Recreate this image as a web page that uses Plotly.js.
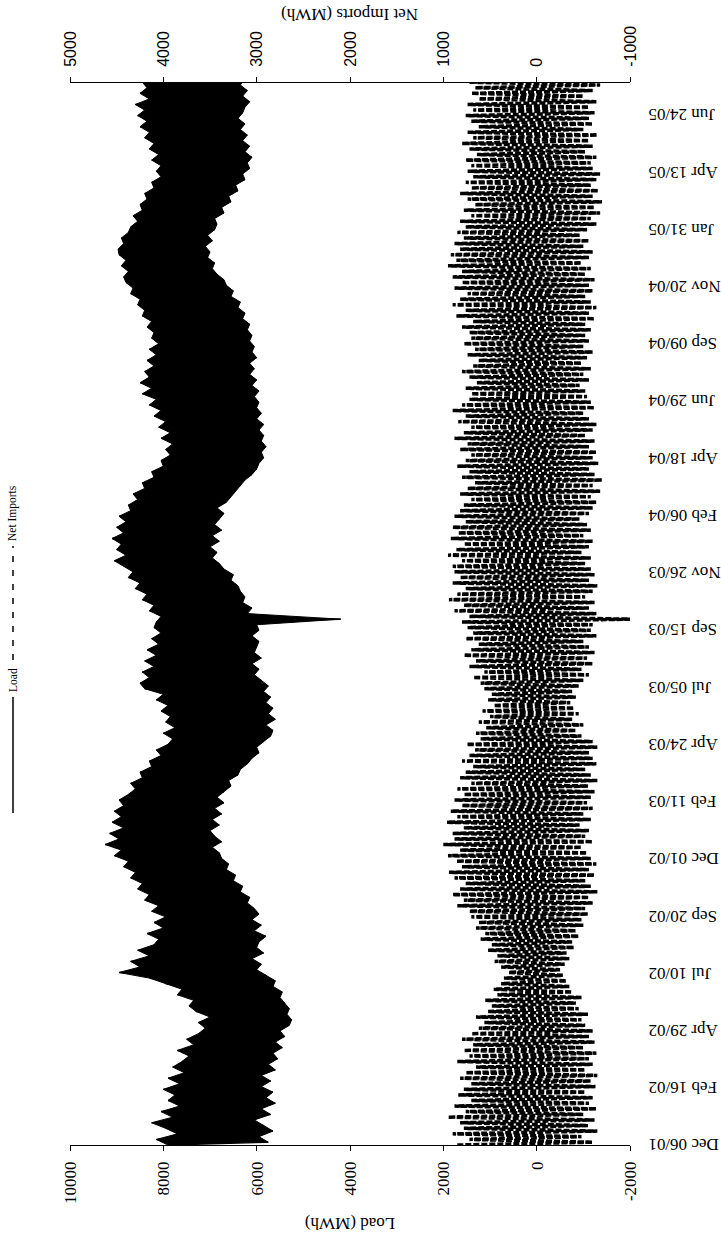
<!DOCTYPE html>
<html><head><meta charset="utf-8">
<script src="https://cdn.plot.ly/plotly-3.0.1.min.js"></script>
<style>
html,body{margin:0;padding:0;background:#fff;overflow:hidden;}
#wrap{position:relative;width:721px;height:1233px;overflow:hidden;background:#fff;}
#chart{position:absolute;left:0;top:0;width:1233px;height:721px;transform-origin:0 0;transform:translate(0px,1233px) rotate(-90deg);}
</style></head><body><div id="wrap"><div id="chart"></div></div>
<script>
// ---- data (weekly envelope; week 0 starts 2001-12-06) ----
const seriesStart = '2001-12-06';
const rangeEnd = '2005-08-03';
const tickDates = ['2001-12-06','2002-02-16','2002-04-29','2002-07-10','2002-09-20','2002-12-01','2003-02-11','2003-04-24','2003-07-05','2003-09-15','2003-11-26','2004-02-06','2004-04-18','2004-06-29','2004-09-09','2004-11-20','2005-01-31','2005-04-13','2005-06-24'];
const tickLabels = ['Dec 06/01','Feb 16/02','Apr 29/02','Jul 10/02','Sep 20/02','Dec 01/02','Feb 11/03','Apr 24/03','Jul 05/03','Sep 15/03','Nov 26/03','Feb 06/04','Apr 18/04','Jun 29/04','Sep 09/04','Nov 20/04','Jan 31/05','Apr 13/05','Jun 24/05'];
const loadTicks = [-2000,0,2000,4000,6000,8000,10000];
const loadTickText = ['-2000','0','2000','4000','6000','8000','10000'];
const netTicks = [-1000,0,1000,2000,3000,4000,5000];
const netTickText = ['-1000','0','1000','2000','3000','4000','5000'];

const loadHigh = [
 7900,8150,7700,7950,8250,7800,8050,7650,7900,7750,8000,
 7650,7900,7550,7800,7600,7450,7700,7350,7500,7250,
 7100,7250,7000,7300,7450,7350,7700,7600,7950,8300,
 8950,8500,8700,8300,8550,8200,8100,8350,8000,8200,7950,
 8250,8100,8400,8300,8550,8450,8700,8600,8850,8750,
 9050,8900,9250,8950,9150,8850,9100,8900,9050,8850,8950,
 8750,8600,8700,8450,8500,8250,8300,8050,8150,7900,
 7800,8000,7750,7950,7850,8050,7900,8150,8000,8400,
 8500,8300,8450,8200,8400,8150,8350,8100,8250,8050,8200,
 8150,8050,8300,8200,8450,8350,8600,8500,8750,8650,
 8850,9050,8800,9000,8900,9100,8850,9000,8800,8950,8700,
 8750,8550,8650,8400,8450,8200,8250,8000,8050,7850,
 7950,7800,8050,7850,8100,7950,8200,8050,8300,8150,
 8450,8250,8500,8300,8400,8200,8350,8150,8300,8100,8250,
 8200,8350,8250,8450,8400,8550,8500,8700,8650,8800,
 8850,8750,8900,8800,8950,8970,8850,8900,8750,
 8700,8550,8650,8450,8500,8350,8400,8200,8250,8050,8150,
 8050,8250,8100,8300,8200,8400,8300,8500,8350,8550,
 8400,8600,8300,8500,8350,8450];
const loadLow = [
 5750,5950,5650,5850,6050,5700,5900,5600,5800,5650,5900,
 5700,5900,5600,5750,5550,5650,5450,5600,5400,5500,
 5300,5250,5350,5300,5400,5500,5450,5650,5600,5800,
 6000,5900,6100,5850,6000,5950,5800,6050,5900,6100,5950,
 6050,6200,6150,6350,6300,6500,6450,6650,6600,6750,
 6800,6950,6750,6900,7000,6800,6950,6750,6900,6700,6850,
 6700,6550,6600,6400,6350,6200,6100,5950,6000,5850,
 5700,5650,5800,5600,5750,5650,5800,5700,5850,5750,
 5900,6050,5950,6100,5900,6050,6000,5950,6100,5950,6000,
 4200,6200,6100,6300,6250,6350,6400,6550,6500,6700,
 6800,6950,6850,7000,6800,6950,6750,6900,6800,6700,6850,
 6650,6550,6450,6350,6250,6100,6000,5950,5850,5900,
 5800,5900,5850,5950,5850,6000,5900,6000,5950,6050,
 5950,6100,6000,6150,6050,6150,6000,6100,6050,6150,6100,
 6200,6150,6300,6250,6400,6350,6550,6500,6650,6700,
 6850,6950,6900,7050,7000,7100,6950,7050,6900,
 6850,6900,6700,6750,6550,6600,6400,6450,6250,6300,6150,
 6200,6100,6250,6150,6300,6200,6350,6250,6400,6300,
 6250,6150,6300,6200,6350,6250];
const netHigh = [
 850,720,900,780,820,950,760,880,700,840,780,
 700,820,760,650,850,720,780,680,800,700,
 620,560,650,520,480,550,420,460,380,350,
 300,380,450,420,520,480,600,550,650,620,700,
 720,850,780,900,820,760,880,940,800,860,
 950,820,1000,880,900,780,960,850,920,800,880,
 780,850,700,820,760,680,800,720,660,750,
 600,650,540,620,500,580,460,520,480,560,
 600,680,560,720,650,780,700,620,760,680,740,
 800,720,880,780,940,850,760,900,820,880,
 900,800,950,860,780,920,840,900,760,880,820,
 780,700,820,740,660,800,720,850,760,700,
 820,740,880,780,700,840,760,900,800,720,
 700,760,640,720,800,680,620,740,660,780,700,
 720,800,680,860,760,900,820,740,880,800,
 900,800,950,860,920,820,880,780,850,
 760,820,700,780,660,740,820,700,760,680,740,
 700,760,640,720,800,680,740,620,700,760,
 680,740,620,700,660,720];
const netLow = [
 -600,-480,-650,-550,-620,-500,-640,-560,-600,-520,-630,
 -580,-650,-520,-600,-560,-640,-500,-620,-560,-600,
 -520,-480,-550,-450,-420,-480,-380,-350,-320,-280,
 -250,-300,-350,-320,-400,-380,-450,-420,-500,-480,-550,
 -520,-600,-560,-650,-580,-520,-620,-560,-640,-580,
 -540,-480,-600,-520,-560,-460,-580,-500,-600,-540,-580,
 -620,-550,-650,-580,-520,-640,-600,-560,-650,-600,
 -480,-420,-500,-380,-450,-400,-360,-420,-380,-450,
 -500,-560,-480,-600,-540,-620,-560,-500,-640,-580,-600,
 -1000,-640,-560,-620,-520,-600,-650,-560,-620,-580,
 -520,-580,-480,-560,-600,-500,-580,-540,-460,-560,-600,
 -640,-580,-680,-600,-700,-620,-560,-660,-600,-640,
 -560,-620,-520,-600,-640,-560,-500,-620,-580,-540,
 -520,-460,-560,-500,-580,-480,-540,-600,-500,-560,-520,
 -580,-520,-620,-560,-640,-580,-520,-600,-560,-620,
 -520,-580,-480,-560,-600,-500,-560,-460,-540,
 -640,-580,-680,-620,-700,-600,-660,-580,-640,-680,-600,
 -580,-640,-520,-600,-560,-650,-500,-600,-560,-620,
 -560,-640,-500,-600,-680,-580];

// ---- geometry helpers ----
const DAY = 86400000;
const t0 = Date.parse(seriesStart + 'T00:00:00Z');
function fmt(ms){const d=new Date(ms);const p=n=>String(n).padStart(2,'0');return d.getUTCFullYear()+'-'+p(d.getUTCMonth()+1)+'-'+p(d.getUTCDate())+' '+p(d.getUTCHours())+':'+p(d.getUTCMinutes());}
// each week swings from its high (start of week) to its low (middle of week)
function swing(hi, lo){
  const x=[], y=[];
  for(let i=0;i<hi.length;i++){
    x.push(fmt(t0 + 7*i*DAY)); y.push(hi[i]);
    x.push(fmt(t0 + (7*i+3.5)*DAY)); y.push(lo[i]);
  }
  return {x, y};
}
// closed band: highs forward, lows backward
function band(hi, lo){
  const x=[], y=[];
  for(let i=0;i<hi.length;i++){ x.push(fmt(t0 + 7*i*DAY)); y.push(hi[i]); }
  for(let i=lo.length-1;i>=0;i--){ x.push(fmt(t0 + (7*i+3.5)*DAY)); y.push(lo[i]); }
  return {x, y};
}
const LB = band(loadHigh, loadLow);
const L = swing(loadHigh, loadLow);
const N = swing(netHigh, netLow);

const serif = 'Liberation Serif, Times New Roman, serif';
const sans = 'Liberation Sans, Arial, sans-serif';

const traces = [
  {type:'scatter', mode:'lines', name:'Load', x:LB.x, y:LB.y, yaxis:'y', fill:'toself', fillcolor:'#000', line:{color:'#000', width:1}, hoverinfo:'skip'},
  {type:'scatter', mode:'lines', name:'Load', x:L.x, y:L.y, yaxis:'y', line:{color:'#000', width:1.5}, hoverinfo:'skip'},
  {type:'scatter', mode:'lines', name:'Net Imports', x:N.x, y:N.y, yaxis:'y2', line:{color:'#000', width:3.5, dash:'6px,2px'}, hoverinfo:'skip'}
];

// plot box in the (unrotated) landscape frame
const W = 1233, H = 721, mL = 88, mR = 83, mT = 70, mB = 91;
const pw = W - mL - mR, ph = H - mT - mB;
const px = v => (v - mL) / pw;            // landscape x pixel -> paper
const py = v => (H - mB - v) / ph;        // landscape y pixel -> paper
const legY = py(13);

const layout = {
  width: W, height: H,
  margin: {l: mL, r: mR, t: mT, b: mB, pad: 0},
  paper_bgcolor: '#fff', plot_bgcolor: '#fff',
  showlegend: false,
  font: {family: serif, size: 17, color: '#000'},
  xaxis: {type:'date', range:[seriesStart, rangeEnd], tickmode:'array', tickvals: tickDates, ticktext: tickLabels,
          tickangle: -90, ticks:'', showline:false, showgrid:false, zeroline:false,
          tickfont:{family: serif, size:17, color:'#000'}, ticklabelstandoff: 14},
  yaxis: {range:[-2000,10000], tickmode:'array', tickvals: loadTicks, ticktext: loadTickText,
          ticks:'outside', ticklen:5, tickwidth:1, tickcolor:'#000', showline:true, linecolor:'#000', linewidth:1,
          showgrid:false, zeroline:false, tickfont:{family: serif, size:17, color:'#000'}, ticklabelstandoff: 7,
          title:{text:'Load (MWh)', font:{family: serif, size:17, color:'#000'}, standoff: 9}},
  yaxis2: {overlaying:'y', side:'right', range:[-1000,5000], tickmode:'array', tickvals: netTicks, ticktext: netTickText,
          ticks:'outside', ticklen:5, tickwidth:1, tickcolor:'#000', showline:true, linecolor:'#000', linewidth:1,
          showgrid:false, zeroline:false, tickfont:{family: sans, size:16, color:'#000'}, ticklabelstandoff: 7},
  shapes: [
    {type:'line', xref:'paper', yref:'paper', x0:px(420), x1:px(536), y0:legY, y1:legY, line:{color:'#000', width:1.5}},
    {type:'line', xref:'paper', yref:'paper', x0:px(573), x1:px(687), y0:legY, y1:legY, line:{color:'#000', width:1.5, dash:'6px,8px'}}
  ],
  annotations: [
    {xref:'paper', yref:'paper', x:px(1218), y:0.5, xanchor:'center', yanchor:'middle', textangle:-90, text:'Net Imports (MWh)', showarrow:false, font:{family: serif, size:17, color:'#000'}},
    {xref:'paper', yref:'paper', x:px(539), y:legY, xanchor:'left', yanchor:'middle', text:'Load', showarrow:false, font:{family: serif, size:11.5, color:'#000'}},
    {xref:'paper', yref:'paper', x:px(690), y:legY, xanchor:'left', yanchor:'middle', text:'Net Imports', showarrow:false, font:{family: serif, size:11.5, color:'#000'}}
  ]
};

Plotly.newPlot('chart', traces, layout, {staticPlot:true, displayModeBar:false});
</script></body></html>
